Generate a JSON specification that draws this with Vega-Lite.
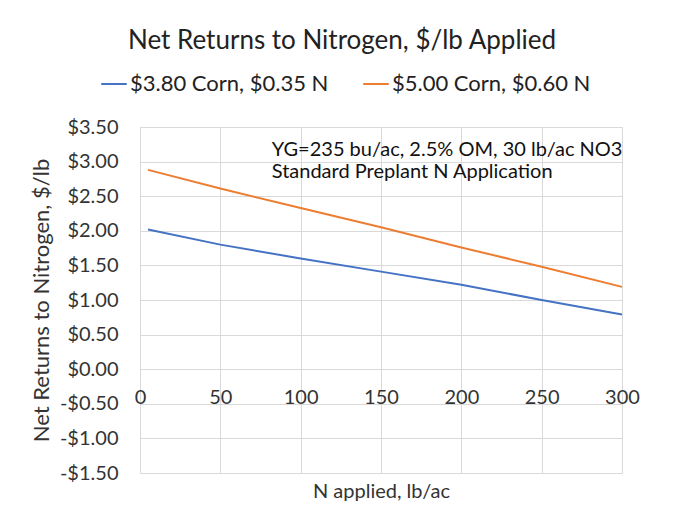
{
  "$schema": "https://vega.github.io/schema/vega-lite/v6.json",
  "width": 482,
  "height": 346,
  "autosize": {"type": "none"},
  "padding": {"left": 140, "top": 127, "right": 58, "bottom": 51},
  "background": "white",
  "title": {"text": "Net Returns to Nitrogen, $/lb Applied", "anchor": "middle", "dx": -39, "offset": 16, "fontSize": 26, "fontWeight": "normal", "font": "Lato", "color": "#222222"},
  "config": {
    "font": "Lato",
    "view": {"stroke": null},
    "axis": {"gridColor": "#d9d9d9", "gridWidth": 1, "labelFontSize": 20, "labelColor": "#333333", "titleColor": "#333333", "titleFontSize": 20, "titleFontWeight": "normal", "domain": false, "ticks": false, "labelOverlap": false}
  },
  "datasets": {
    "lines": [
      {"N": 5, "value": 2.02, "series": "$3.80 Corn, $0.35 N"},
      {"N": 50, "value": 1.8, "series": "$3.80 Corn, $0.35 N"},
      {"N": 100, "value": 1.6, "series": "$3.80 Corn, $0.35 N"},
      {"N": 150, "value": 1.41, "series": "$3.80 Corn, $0.35 N"},
      {"N": 200, "value": 1.22, "series": "$3.80 Corn, $0.35 N"},
      {"N": 250, "value": 1.0, "series": "$3.80 Corn, $0.35 N"},
      {"N": 300, "value": 0.79, "series": "$3.80 Corn, $0.35 N"},
      {"N": 5, "value": 2.88, "series": "$5.00 Corn, $0.60 N"},
      {"N": 50, "value": 2.61, "series": "$5.00 Corn, $0.60 N"},
      {"N": 100, "value": 2.33, "series": "$5.00 Corn, $0.60 N"},
      {"N": 150, "value": 2.05, "series": "$5.00 Corn, $0.60 N"},
      {"N": 200, "value": 1.76, "series": "$5.00 Corn, $0.60 N"},
      {"N": 250, "value": 1.48, "series": "$5.00 Corn, $0.60 N"},
      {"N": 300, "value": 1.19, "series": "$5.00 Corn, $0.60 N"}
    ],
    "notes": [
      {"N": 82, "value": 3.17, "text": "YG=235 bu/ac, 2.5% OM, 30 lb/ac NO3"},
      {"N": 82, "value": 2.85, "text": "Standard Preplant N Application"}
    ]
  },
  "layer": [
    {
      "data": {"name": "lines"},
      "mark": {"type": "line", "strokeWidth": 2},
      "encoding": {
        "x": {"field": "N", "type": "quantitative", "scale": {"domain": [0, 300], "nice": false},
          "axis": {"values": [0, 50, 100, 150, 200, 250, 300], "tickCount": 20, "offset": -104.5, "labelPadding": 19, "title": "N applied, lb/ac", "titlePadding": 74, "labelFlush": false}},
        "y": {"field": "value", "type": "quantitative", "scale": {"domain": [-1.5, 3.5], "nice": false, "zero": false},
          "axis": {"values": [-1.5, -1, -0.5, 0, 0.5, 1, 1.5, 2, 2.5, 3, 3.5], "tickCount": 20, "labelExpr": "(datum.value < 0 ? '-$' : '$') + format(abs(datum.value), '.2f')", "labelPadding": 22, "title": "Net Returns to Nitrogen, $/lb", "titleFontSize": 22, "titlePadding": 6}},
        "color": {"field": "series", "type": "nominal",
          "scale": {"domain": ["$3.80 Corn, $0.35 N", "$5.00 Corn, $0.60 N"], "range": ["#4472C4", "#ED7D31"]},
          "legend": {"orient": "none", "legendX": -40, "legendY": -57, "direction": "horizontal", "title": null, "symbolType": "stroke", "symbolSize": 650, "symbolStrokeWidth": 2, "labelFontSize": 22, "labelColor": "#222222", "columnPadding": 30, "labelOffset": 2, "labelLimit": 400}}
      }
    },
    {
      "data": {"name": "notes"},
      "mark": {"type": "text", "align": "left", "baseline": "middle", "fontSize": 20, "color": "#111111"},
      "encoding": {
        "x": {"field": "N", "type": "quantitative"},
        "y": {"field": "value", "type": "quantitative"},
        "text": {"field": "text"}
      }
    }
  ]
}
